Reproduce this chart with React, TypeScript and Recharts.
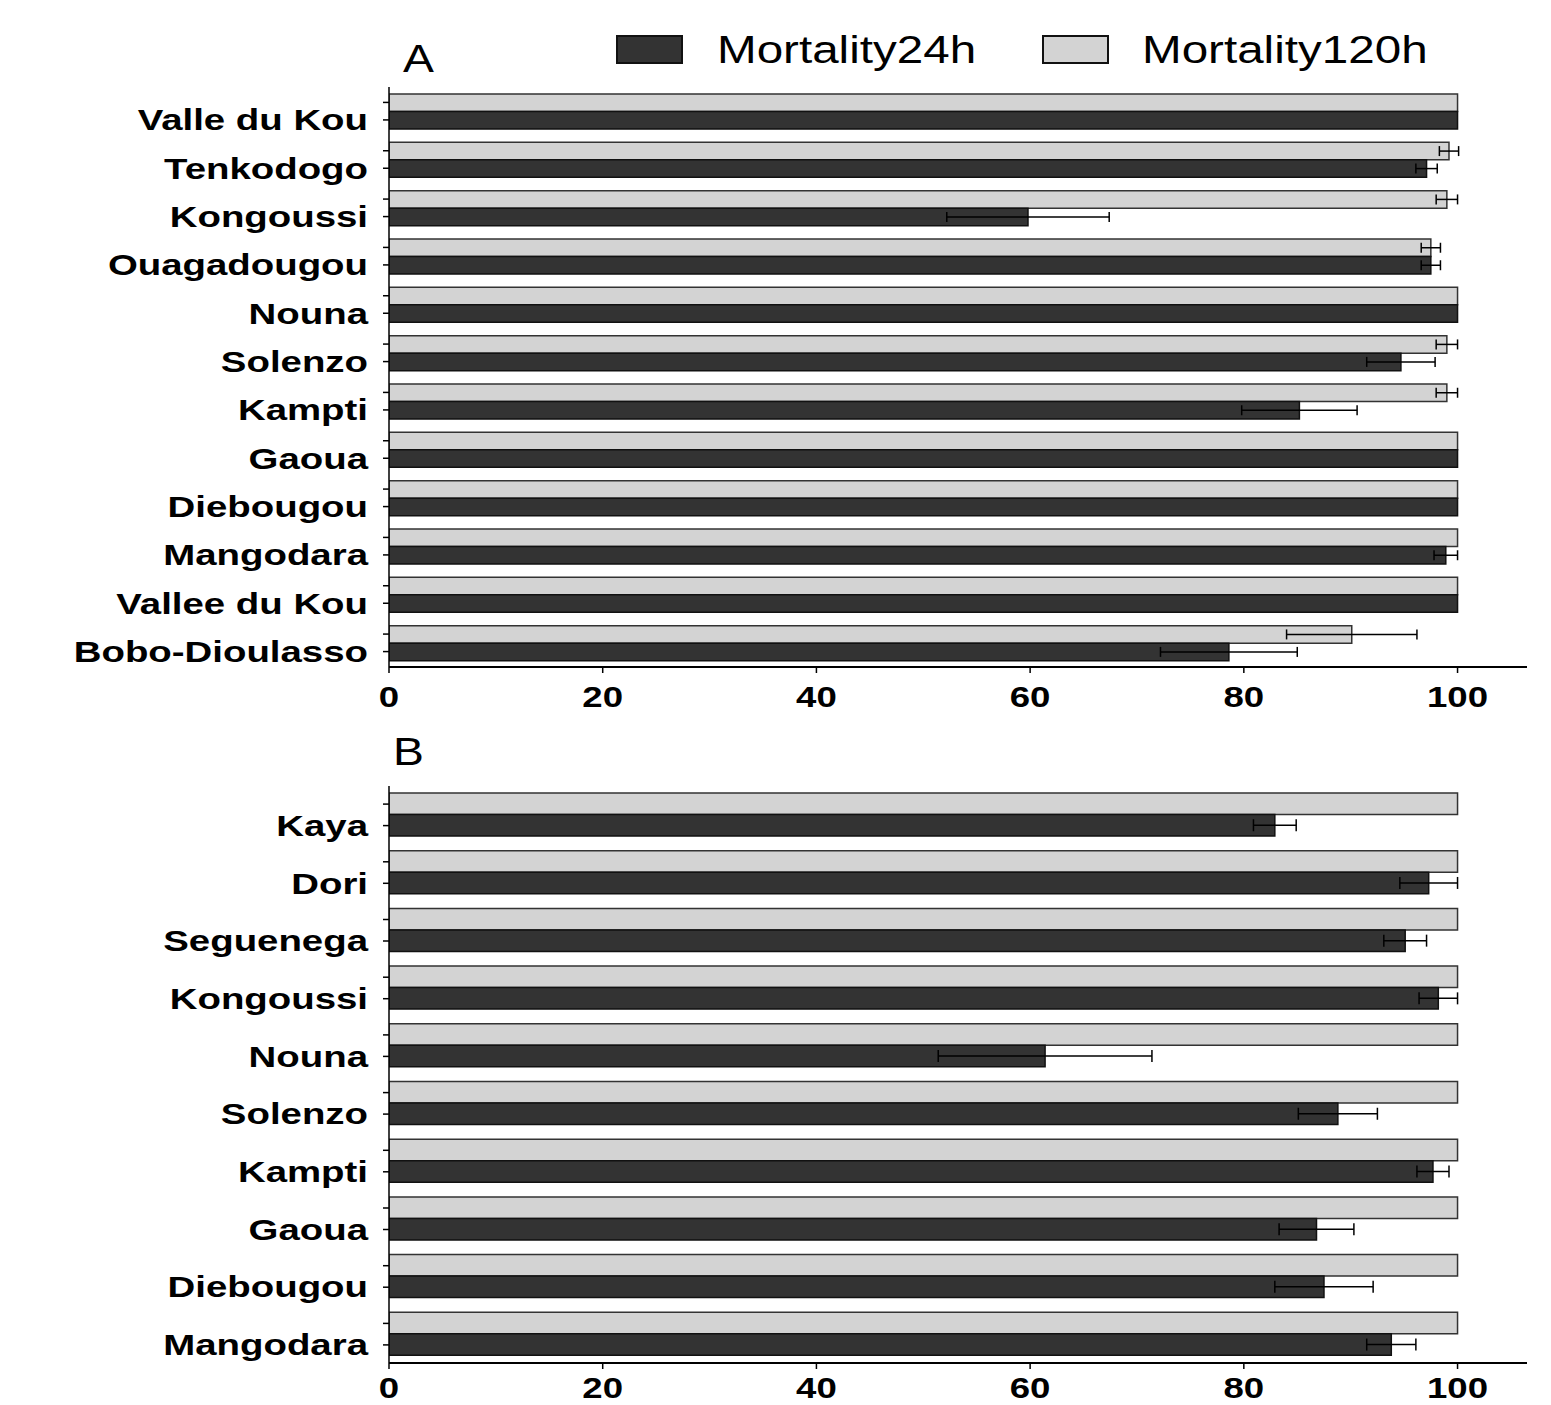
import { BarChart, Bar, XAxis, YAxis, ErrorBar } from "recharts";

// Panel A
const sitesA = [
  "Valle du Kou", "Tenkodogo", "Kongoussi", "Ouagadougou", "Nouna", "Solenzo",
  "Kampti", "Gaoua", "Diebougou", "Mangodara", "Vallee du Kou", "Bobo-Dioulasso",
];
const mort24A = [100, 97.1, 59.8, 97.5, 100, 94.7, 85.2, 100, 100, 98.9, 100, 78.6];
const err24A = [null, 1.0, 7.6, 0.9, null, 3.2, 5.4, null, null, 1.1, null, 6.4];
const mort120A = [100, 99.2, 99.0, 97.5, 100, 99.0, 99.0, 100, 100, 100, 100, 90.1];
const err120A = [null, 0.9, 1.0, 0.9, null, 1.0, 1.0, null, null, null, null, 6.1];

// Panel B
const sitesB = [
  "Kaya", "Dori", "Seguenega", "Kongoussi", "Nouna", "Solenzo",
  "Kampti", "Gaoua", "Diebougou", "Mangodara",
];
const mort24B = [82.9, 97.3, 95.1, 98.2, 61.4, 88.8, 97.7, 86.8, 87.5, 93.8];
const err24B = [2.0, 2.7, 2.0, 1.8, 10.0, 3.7, 1.5, 3.5, 4.6, 2.3];
const mort120B = [100, 100, 100, 100, 100, 100, 100, 100, 100, 100];
const err120B = [null, null, null, null, null, null, null, null, null, null];

const xTicks = [0, 20, 40, 60, 80, 100];
const legendItems = [
  { label: "Mortality24h", fill: "#333333" },
  { label: "Mortality120h", fill: "#d3d3d3" },
];

const FONT = "'Liberation Sans', Arial, sans-serif";
const SX = 1.22;
const SX_LABEL = 1.28;
const AXIS_X = 389;

const build = (names: string[], m24: number[], e24: (number | null)[], m120: number[], e120: (number | null)[]) =>
  names.map((name, i) => ({ name, m24: m24[i], e24: e24[i], m120: m120[i], e120: e120[i] }));

const dataA = build(sitesA, mort24A, err24A, mort120A, err120A);
const dataB = build(sitesB, mort24B, err24B, mort120B, err120B);

function makeYTick(barSize: number, baseOff: number) {
  return (props: any) => {
    const { y, payload } = props;
    return (
      <g>
        <line x1={AXIS_X - 6} x2={AXIS_X} y1={y - barSize / 2} y2={y - barSize / 2} stroke="#000" strokeWidth={1.5} />
        <line x1={AXIS_X - 6} x2={AXIS_X} y1={y + barSize / 2} y2={y + barSize / 2} stroke="#000" strokeWidth={1.5} />
        <text
          transform={`translate(368,${y + baseOff}) scale(${SX_LABEL},1)`}
          textAnchor="end"
          fontSize={30}
          fontWeight="bold"
          fontFamily={FONT}
          fill="#000"
        >
          {payload.value}
        </text>
      </g>
    );
  };
}

function makeXTick(baseline: number) {
  return (props: any) => {
    const { x, payload } = props;
    return (
      <text
        transform={`translate(${x},${baseline}) scale(${SX},1)`}
        textAnchor="middle"
        fontSize={30}
        fontWeight="bold"
        fontFamily={FONT}
        fill="#000"
      >
        {payload.value}
      </text>
    );
  };
}

interface PanelProps {
  data: any[];
  height: number;
  top: number;
  xAxisHeight: number;
  tickBase: number;
  barSize: number;
  labelOff: number;
  capWidth: number;
}

function Panel({ data, height, top, xAxisHeight, tickBase, barSize, labelOff, capWidth }: PanelProps) {
  return (
    <BarChart
      width={1551}
      height={height}
      data={data}
      layout="vertical"
      barGap={0}
      barSize={barSize}
      margin={{ top, right: 24, left: 0, bottom: 0 }}
    >
      <XAxis
        type="number"
        domain={[0, 106.5]}
        ticks={xTicks}
        allowDataOverflow
        height={xAxisHeight}
        axisLine={{ stroke: "#000", strokeWidth: 2 }}
        tickLine={{ stroke: "#000", strokeWidth: 1.5 }}
        tickSize={6}
        tick={makeXTick(height - xAxisHeight + tickBase)}
      />
      <YAxis
        type="category"
        dataKey="name"
        width={AXIS_X}
        interval={0}
        axisLine={{ stroke: "#000", strokeWidth: 1.5 }}
        tickLine={false}
        tick={makeYTick(barSize, labelOff)}
      />
      <Bar dataKey="m120" fill="#d3d3d3" stroke="#333" strokeWidth={1.5} isAnimationActive={false}>
        <ErrorBar dataKey="e120" direction="x" width={capWidth} stroke="#000" strokeWidth={1.5} />
      </Bar>
      <Bar dataKey="m24" fill="#333333" stroke="#111" strokeWidth={1.5} isAnimationActive={false}>
        <ErrorBar dataKey="e24" direction="x" width={capWidth} stroke="#000" strokeWidth={1.5} />
      </Bar>
    </BarChart>
  );
}

export default function App() {
  return (
    <div style={{ position: "absolute", left: 0, top: 0, width: 1551, height: 1405, background: "#fff" }}>
      <div style={{ position: "absolute", left: 0, top: 0 }}>
        <Panel data={dataA} height={720} top={87} xAxisHeight={53} tickBase={40} barSize={17.5} labelOff={19} capWidth={5} />
      </div>
      <div style={{ position: "absolute", left: 0, top: 720 }}>
        <Panel data={dataB} height={685} top={66} xAxisHeight={42} tickBase={35} barSize={21.5} labelOff={21} capWidth={6} />
      </div>
      <svg width={1551} height={90} style={{ position: "absolute", left: 0, top: 0 }}>
        <text transform={`translate(403,72) scale(${SX},1)`} fontSize={38} fontFamily={FONT} fill="#000">A</text>
        {legendItems.map((it, i) => (
          <g key={it.label}>
            <rect x={617 + i * 426} y={36} width={65} height={27} fill={it.fill} stroke="#111" strokeWidth={2} />
            <text
              transform={`translate(${717 + i * 425},63) scale(${SX},1)`}
              fontSize={39}
              fontFamily={FONT}
              fill="#000"
            >
              {it.label}
            </text>
          </g>
        ))}
      </svg>
      <svg width={100} height={60} style={{ position: "absolute", left: 380, top: 720 }}>
        <text transform={`translate(13,45) scale(${SX},1)`} fontSize={38} fontFamily={FONT} fill="#000">B</text>
      </svg>
    </div>
  );
}
